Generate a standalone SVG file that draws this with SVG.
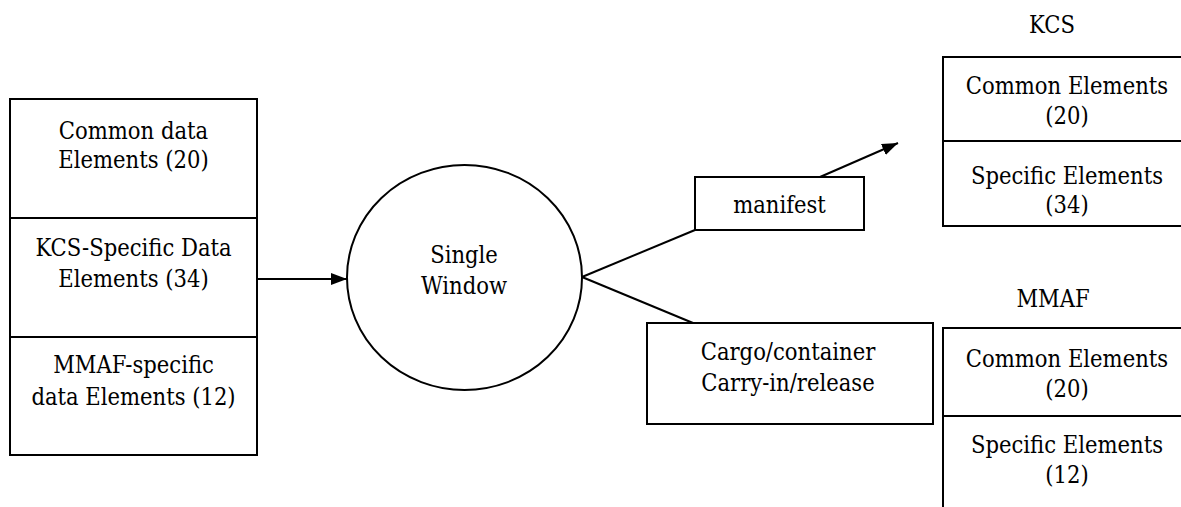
<svg xmlns="http://www.w3.org/2000/svg" width="1181" height="507" viewBox="0 0 1181 507">
<style>
.b{fill:#fff;stroke:#000;stroke-width:2}
.l{stroke:#000;stroke-width:2;fill:none}
.t{font-size:23.5px;fill:#000;text-anchor:middle;font-stretch:condensed}
</style>
<defs>
<marker id="ah2" viewBox="0 0 16 12" refX="16" refY="6" markerWidth="16" markerHeight="12" markerUnits="userSpaceOnUse" orient="auto">
<path d="M0,0 L16,6 L0,12 z" fill="#000"/>
</marker>
</defs>
<rect width="1181" height="507" fill="#fff"/>
<g id="connectors">
<line class="l" x1="257" y1="279" x2="347" y2="279" marker-end="url(#ah2)"/>
<line class="l" x1="582" y1="277" x2="695" y2="230"/>
<line class="l" x1="820" y1="177" x2="898" y2="143" marker-end="url(#ah2)"/>
<line class="l" x1="582" y1="277" x2="693" y2="323"/>
</g>
<g class="t" font-family="'DejaVu Serif Condensed', 'DejaVu Serif', serif">
<g id="source">
<rect class="b" x="10" y="99" width="247" height="356"/>
<line class="l" x1="10" y1="218" x2="257" y2="218"/>
<line class="l" x1="10" y1="337" x2="257" y2="337"/>
<text x="133.5" y="139">Common data</text>
<text x="133.5" y="168">Elements (20)</text>
<text x="133.5" y="256">KCS-Specific Data</text>
<text x="133.5" y="287">Elements (34)</text>
<text x="133.5" y="373">MMAF-specific</text>
<text x="133.5" y="405">data Elements (12)</text>
</g>
<g id="single-window">
<ellipse class="b" cx="464.5" cy="277.5" rx="117.5" ry="112.5"/>
<text x="464" y="263">Single</text>
<text x="464" y="294">Window</text>
</g>
<g id="manifest">
<rect class="b" x="695" y="177" width="169" height="53"/>
<text x="779.5" y="213">manifest</text>
</g>
<g id="cargo">
<rect class="b" x="647" y="323" width="286" height="101"/>
<text x="788" y="360">Cargo/container</text>
<text x="788" y="391">Carry-in/release</text>
</g>
<g id="kcs">
<text x="1052" y="33">KCS</text>
<rect class="b" x="943" y="57" width="245" height="169"/>
<line class="l" x1="943" y1="141" x2="1181" y2="141"/>
<text x="1067" y="94">Common Elements</text>
<text x="1067" y="124">(20)</text>
<text x="1067" y="184">Specific Elements</text>
<text x="1067" y="213">(34)</text>
</g>
<g id="mmaf">
<text x="1053" y="307">MMAF</text>
<rect class="b" x="943" y="328" width="245" height="190"/>
<line class="l" x1="943" y1="416" x2="1181" y2="416"/>
<text x="1067" y="367">Common Elements</text>
<text x="1067" y="397">(20)</text>
<text x="1067" y="453">Specific Elements</text>
<text x="1067" y="483">(12)</text>
</g>
</g>
</svg>
